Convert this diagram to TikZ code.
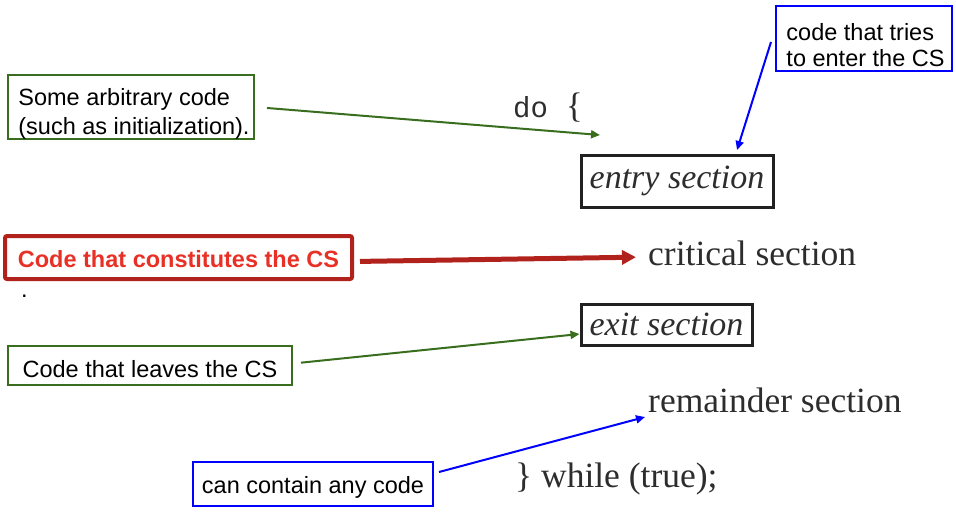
\documentclass[tikz,border=0pt]{standalone}
\usepackage{fontspec}
\usepackage{xcolor}
\usepackage{tikz}
\usetikzlibrary{arrows.meta}

\setmainfont{Liberation Sans}
\newfontfamily\monofont{Liberation Mono}
\newfontfamily\codeserif{Liberation Serif}
\newcommand\notefont{\fontsize{23.5}{29}\selectfont}
\newcommand\codefont{\codeserif\fontsize{35.5}{40}\selectfont}

\definecolor{notegreen}{RGB}{56,110,30}
\definecolor{csborder}{RGB}{178,34,28}
\definecolor{cstext}{RGB}{232,48,38}
\definecolor{codegray}{RGB}{45,45,45}

\tikzset{
  note/.style={draw, line width=2pt, font=\notefont, align=left, inner sep=0pt, text height=24pt},
  twoline/.style={text height=60pt},
  greennote/.style={note, draw=notegreen},
  bluenote/.style={note, draw=blue},
  secbox/.style={draw=black!87, line width=3pt, inner sep=0pt, text=codegray,
    font=\codeserif\itshape\fontsize{34}{40}\selectfont},
  codetxt/.style={font=\codefont, text=codegray, inner sep=0pt, anchor=base west},
  greenarrow/.style={notegreen, line width=2pt, -{Triangle[length=9pt,width=8pt]}},
  bluearrow/.style={blue, line width=2pt, -{Triangle[length=9pt,width=8pt]}},
}

\begin{document}
\begin{tikzpicture}[x=1pt,y=-1pt]
\useasboundingbox (0,0) rectangle (956,512);

% the code
\node[codetxt] (dotxt) at (513,117) {{\monofont\fontsize{29}{32}\selectfont do}\hspace{0.5em}\{};
\node[secbox, minimum width=192pt, minimum height=52pt] (entrysec) at (677,181) {entry section};
\node[codetxt] (critsec) at (648,265) {critical section};
\node[secbox, minimum width=171pt, minimum height=41pt] (exitsec) at (666.5,324.5) {exit section};
\node[codetxt] (remsec) at (648,412) {remainder section};
\node[codetxt] (whiletxt) at (515,487) {\} while (true);};

% the notes
\node[greennote, twoline, minimum width=246pt, minimum height=64pt] (arbbox) at (131,107)
  {\hspace*{6pt}Some arbitrary code\\\hspace*{6pt}(such as initialization).};
\node[bluenote, minimum width=176pt, minimum height=65pt, text height=56pt,
  font=\fontsize{23.5}{26}\selectfont] (triesbox) at (864,38.5)
  {\hspace*{3pt}code that tries\\\hspace*{3pt}to enter the CS};
\node[draw=csborder, line width=4pt, rounded corners=2pt, inner sep=0pt, text height=21pt,
  minimum width=347pt, minimum height=43pt, text=cstext, font=\notefont\bfseries]
  (csbox) at (178.5,257.5) {Code that constitutes the CS};
\node[font=\notefont, inner sep=0pt, anchor=base west] (dot) at (21,297) {.};
\node[greennote, minimum width=284pt, minimum height=39pt] (leavesbox) at (150,365.5)
  {Code that leaves the CS};
\node[bluenote, minimum width=240pt, minimum height=44pt] (anybox) at (313,484)
  {can contain any code};

% arrow ends
\coordinate (dotip) at (600,135);
\coordinate (entrytip) at (737,150);
\coordinate (remtip) at (645,417);

\draw[greenarrow, shorten <=12pt] (arbbox.east) -- (dotip);
\draw[bluearrow] ([xshift=-4pt,yshift=-3.5pt]triesbox.west) -- (entrytip);
\draw[csborder, line width=5pt, -{Triangle[length=14pt,width=14pt]}, shorten <=6pt, shorten >=12pt]
  ([yshift=-4pt]csbox.east) -- ([yshift=8pt]critsec.base west);
\draw[greenarrow, shorten <=8pt] ([yshift=2pt]leavesbox.east) -- ([yshift=-9.5pt]exitsec.west);
\draw[bluearrow] ([xshift=5pt,yshift=12pt]anybox.east) -- (remtip);
\end{tikzpicture}
\end{document}
